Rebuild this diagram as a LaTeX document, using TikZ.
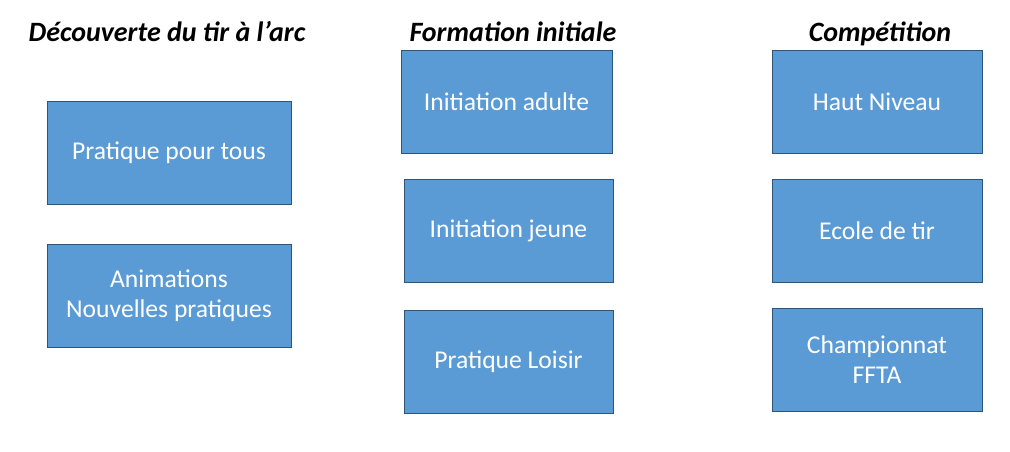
\documentclass[tikz,border=0pt]{standalone}
\usepackage{fontspec}
\setmainfont{Carlito}
\definecolor{boxfill}{HTML}{5B9BD5}
\definecolor{boxline}{HTML}{2E5579}
\begin{document}
\begin{tikzpicture}[x=1pt,y=-1pt,
  box/.style={draw=boxline,line width=0.9pt,fill=boxfill,text=white,font=\fontsize{25.6}{30}\selectfont,align=center,inner sep=0pt},
  title/.style={font=\fontsize{28}{32}\selectfont\bfseries\itshape,text=black,anchor=base}]
\useasboundingbox (0,0) rectangle (1010,452);
\node[title] (t1) at (167,42) {Découverte du tir à l’arc};
\node[title] (t2) at (513,42) {Formation initiale};
\node[title] (t3) at (880,42) {Compétition};
% column 1
\node[box,minimum width=244pt,minimum height=103pt] (a1) at (169,152.5) {Pratique pour tous};
\node[box,minimum width=244pt,minimum height=103pt] (a2) at (169,295.5) {Animations\\Nouvelles pratiques};
% column 2
\node[box,minimum width=211pt,minimum height=103pt] (b1) at (506.5,101.5) {Initiation adulte};
\node[box,minimum width=209pt,minimum height=103pt] (b2) at (508.5,230.5) {Initiation jeune};
\node[box,minimum width=209pt,minimum height=103pt] (b3) at (508.5,361.5) {Pratique Loisir};
% column 3
\node[box,minimum width=210pt,minimum height=103pt] (c1) at (877,101.5) {Haut Niveau};
\node[box,minimum width=210pt,minimum height=103pt] (c2) at (877,230.5) {Ecole de tir};
\node[box,minimum width=210pt,minimum height=103pt] (c3) at (877,359.5) {Championnat\\FFTA};
\end{tikzpicture}
\end{document}
